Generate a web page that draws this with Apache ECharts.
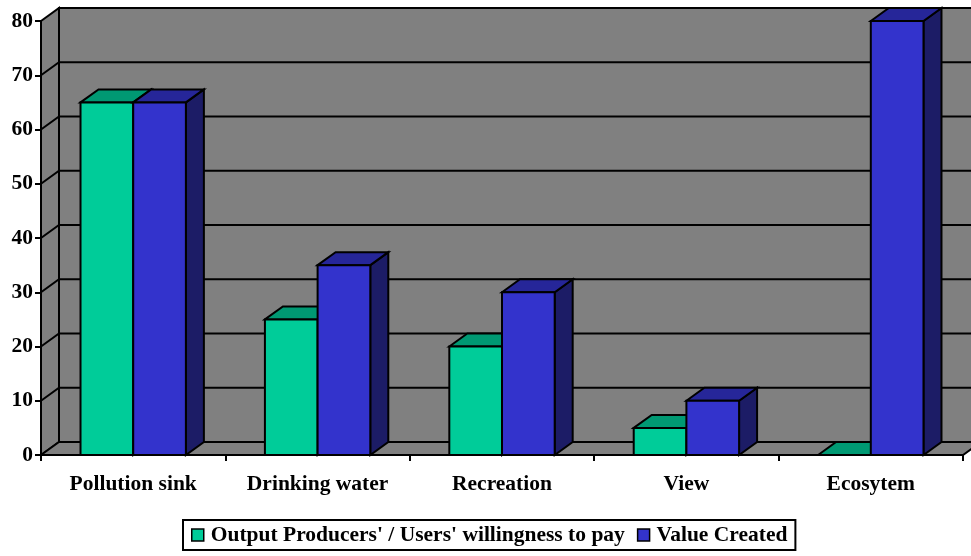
<!DOCTYPE html>
<html>
<head>
<meta charset="utf-8">
<script src="https://cdn.jsdelivr.net/npm/echarts@6/dist/echarts.min.js"></script>
<style>
  html, body { margin: 0; padding: 0; background: #ffffff; }
  #chart { width: 971px; height: 556px; }
</style>
</head>
<body>
<div id="chart"></div>
<script>
// Categories and values
var categories = ['Pollution sink', 'Drinking water', 'Recreation', 'View', 'Ecosytem'];
var willingnessToPay = [65, 25, 20, 5, 0];
var valueCreated = [65, 35, 30, 10, 80];
var seriesNames = ["Output Producers' / Users' willingness to pay", 'Value Created'];
var yTicks = [0, 10, 20, 30, 40, 50, 60, 70, 80];

// Oblique depth of the pseudo-3D box (pixels)
var DX = 18, DY = -13;
var LINE = '#000000';
var WALL = '#808080';
var FONT = 'Liberation Serif, Times New Roman, serif';
var FONT_SIZE = 21.5;

// Face colours for each series: front, top, side
var faces = [
  { front: '#00CC99', top: '#009973', side: '#00664D' },
  { front: '#3333CC', top: '#262699', side: '#1C1C66' }
];

var chart = echarts.init(document.getElementById('chart'), null, { renderer: 'canvas' });

// Walls, floor and gridlines of the box
function renderWalls(params, api) {
  var band = api.size([1, 0])[0];
  var first = api.coord([0, 0]);
  var last = api.coord([categories.length - 1, 0]);
  var x0 = first[0] - band / 2;
  var x1 = last[0] + band / 2;
  var yMin = api.coord([0, yTicks[0]])[1];
  var yMax = api.coord([0, yTicks[yTicks.length - 1]])[1];
  var style = { fill: WALL, stroke: LINE, lineWidth: 2 };
  var children = [];
  // back wall (runs past the right edge)
  children.push({ type: 'polygon', shape: { points: [
    [x0 + DX, yMax + DY], [x1 + DX + 40, yMax + DY], [x1 + DX + 40, yMin + DY], [x0 + DX, yMin + DY]
  ] }, style: style });
  // left wall
  children.push({ type: 'polygon', shape: { points: [
    [x0, yMax], [x0 + DX, yMax + DY], [x0 + DX, yMin + DY], [x0, yMin]
  ] }, style: style });
  // floor
  children.push({ type: 'polygon', shape: { points: [
    [x0, yMin], [x0 + DX, yMin + DY], [x1 + DX, yMin + DY], [x1, yMin]
  ] }, style: style });
  // gridlines on the left and back walls
  for (var i = 1; i < yTicks.length - 1; i++) {
    var y = api.coord([0, yTicks[i]])[1];
    children.push({ type: 'polyline', shape: { points: [
      [x0, y], [x0 + DX, y + DY], [x1 + DX + 40, y + DY]
    ] }, style: { fill: null, stroke: LINE, lineWidth: 2 } });
  }
  return { type: 'group', children: children };
}

// One pseudo-3D column
function makeBarRenderer(idx) {
  return function (params, api) {
    var cat = api.value(0);
    var val = api.value(1);
    var band = api.size([1, 0])[0];
    var w = band / 3.5;
    var top = api.coord([cat, val]);
    var base = api.coord([cat, 0]);
    var xl = top[0] - w + idx * w;
    var xr = xl + w;
    var yt = top[1], yb = base[1];
    var c = faces[idx];
    var s = { stroke: LINE, lineWidth: 2, lineJoin: 'miter' };
    return { type: 'group', children: [
      { type: 'polygon', shape: { points: [[xr, yt], [xr + DX, yt + DY], [xr + DX, yb + DY], [xr, yb]] },
        style: Object.assign({ fill: c.side }, s) },
      { type: 'polygon', shape: { points: [[xl, yt], [xl + DX, yt + DY], [xr + DX, yt + DY], [xr, yt]] },
        style: Object.assign({ fill: c.top }, s) },
      { type: 'rect', shape: { x: xl, y: yt, width: w, height: yb - yt },
        style: Object.assign({ fill: c.front }, s) }
    ] };
  };
}

function toPairs(arr) { return arr.map(function (v, i) { return [i, v]; }); }

var option = {
  animation: false,
  backgroundColor: '#ffffff',
  grid: { left: 41, right: 8, top: 21, bottom: 101, containLabel: false },
  xAxis: {
    type: 'category',
    data: categories,
    z: 10,
    axisLine: { show: true, lineStyle: { color: LINE, width: 2 } },
    axisTick: { show: true, length: 6, lineStyle: { color: LINE, width: 2 } },
    axisLabel: { color: '#000', fontFamily: FONT, fontWeight: 'bold', fontSize: FONT_SIZE, margin: 18 },
    splitLine: { show: false }
  },
  yAxis: {
    type: 'value',
    min: 0, max: 80, interval: 10,
    z: 10,
    axisLine: { show: true, lineStyle: { color: LINE, width: 2 } },
    axisTick: { show: true, length: 6, lineStyle: { color: LINE, width: 2 } },
    axisLabel: { color: '#000', fontFamily: FONT, fontWeight: 'bold', fontSize: FONT_SIZE, margin: 8,
      padding: [5, 0, 0, 0] },
    splitLine: { show: false }
  },
  legend: {
    data: seriesNames,
    left: 183, top: 520,
    padding: [4, 8],
    borderColor: '#000', borderWidth: 2,
    itemWidth: 12, itemHeight: 12, itemGap: 12,
    icon: 'rect',
    itemStyle: { borderColor: '#000', borderWidth: 1.5 },
    textStyle: { color: '#000', fontFamily: FONT, fontWeight: 'bold', fontSize: FONT_SIZE, padding: [1, 0, 0, 2] }
  },
  series: [
    {
      type: 'custom', name: '_walls', z: 1, silent: true, clip: false,
      renderItem: renderWalls, data: [[0, 0]], encode: { x: 0, y: 1 }
    },
    {
      type: 'custom', name: seriesNames[0], z: 2, clip: false,
      itemStyle: { color: faces[0].front },
      renderItem: makeBarRenderer(0), data: toPairs(willingnessToPay), encode: { x: 0, y: 1 }
    },
    {
      type: 'custom', name: seriesNames[1], z: 3, clip: false,
      itemStyle: { color: faces[1].front },
      renderItem: makeBarRenderer(1), data: toPairs(valueCreated), encode: { x: 0, y: 1 }
    }
  ]
};

chart.setOption(option);
</script>
</body>
</html>
